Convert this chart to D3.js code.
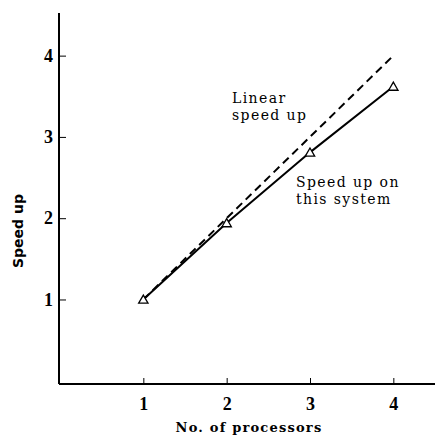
<!DOCTYPE html>
<html>
<head>
<meta charset="utf-8">
<script src="https://cdn.jsdelivr.net/npm/d3@7"></script>
<style>
  body { margin: 0; background: #fff; }
</style>
</head>
<body>
<div id="chart"></div>
<script>
const width = 435,
  height = 436,
  margin = { top: 13, bottom: 52, left: 59, right: 0 };

// data
const processors = [1, 2, 3, 4];
const linearSpeedup = [1, 2, 3, 4];
const systemSpeedup = [1.0, 1.94, 2.81, 3.62];
const xTicks = [1, 2, 3, 4];
const yTicks = [1, 2, 3, 4];

const svg = d3.select("#chart")
  .append("svg")
  .attr("width", width)
  .attr("height", height);

const xScale = d3.scaleLinear()
  .domain([0, 4.5])
  .range([margin.left + 1, width]);

const yScale = d3.scaleLinear()
  .domain([-0.04, 4.5])
  .range([height - margin.bottom, 15]);

// axes
svg.append("g")
  .attr("transform", "translate(0," + (height - margin.bottom) + ")")
  .call(d3.axisBottom(xScale).tickValues(xTicks).tickFormat(d3.format("d")).tickSize(-6).tickSizeOuter(0).tickPadding(13))
  .call(g => g.select(".domain").attr("stroke-width", 2).attr("d", "M" + margin.left + ",0H" + width))
  .call(g => g.selectAll(".tick line").attr("stroke-width", 1))
  .call(g => g.selectAll(".tick text")
    .attr("font-family", "Liberation Serif, serif")
    .attr("font-weight", "bold")
    .attr("font-size", 18));

svg.append("g")
  .attr("transform", "translate(" + margin.left + ",0)")
  .call(d3.axisLeft(yScale).tickValues(yTicks).tickFormat(d3.format("d")).tickSize(-7).tickSizeOuter(0).tickPadding(6))
  .call(g => g.select(".domain").attr("stroke-width", 2).attr("d", "M0," + margin.top + "V" + (height - margin.bottom)))
  .call(g => g.selectAll(".tick line").attr("stroke-width", 1))
  .call(g => g.selectAll(".tick text")
    .attr("font-family", "Liberation Serif, serif")
    .attr("font-weight", "bold")
    .attr("font-size", 18));

// axis titles
svg.append("text")
  .attr("x", 249)
  .attr("y", 432)
  .attr("text-anchor", "middle")
  .attr("font-family", "DejaVu Serif, serif")
  .attr("font-weight", "bold")
  .attr("font-size", 13)
  .attr("letter-spacing", 1.2)
  .text("No. of processors");

svg.append("text")
  .attr("transform", "translate(23,231) rotate(-90)")
  .attr("text-anchor", "middle")
  .attr("font-family", "DejaVu Sans, sans-serif")
  .attr("font-weight", "bold")
  .attr("font-size", 14)
  .text("Speed up");

const line = d3.line()
  .x((d, i) => xScale(processors[i]))
  .y(d => yScale(d));

// linear speed up (dashed)
svg.append("path")
  .datum(linearSpeedup)
  .attr("d", line)
  .attr("fill", "none")
  .attr("stroke", "black")
  .attr("stroke-width", 2)
  .attr("stroke-dasharray", "8,5");

// speed up on this system
svg.append("path")
  .datum(systemSpeedup)
  .attr("d", line)
  .attr("fill", "none")
  .attr("stroke", "black")
  .attr("stroke-width", 2);

svg.selectAll("mytriangle")
  .data(systemSpeedup)
  .enter()
  .append("path")
    .attr("d", d3.symbol().type(d3.symbolTriangle).size(38))
    .attr("transform", (d, i) => "translate(" + xScale(processors[i]) + "," + (yScale(d) + 1) + ")")
    .attr("fill", "white")
    .attr("stroke", "black")
    .attr("stroke-width", 1.3);

// labels
const notes = [
  { x: 232, y: 103, text: "Linear" },
  { x: 232, y: 120, text: "speed up" },
  { x: 296, y: 187, text: "Speed up on" },
  { x: 296, y: 204, text: "this system" }
];

svg.selectAll("mylabels")
  .data(notes)
  .enter()
  .append("text")
    .attr("x", d => d.x)
    .attr("y", d => d.y)
    .attr("font-family", "DejaVu Serif, serif")
    .attr("font-size", 14)
    .attr("letter-spacing", 1.4)
    .text(d => d.text);
</script>
</body>
</html>
